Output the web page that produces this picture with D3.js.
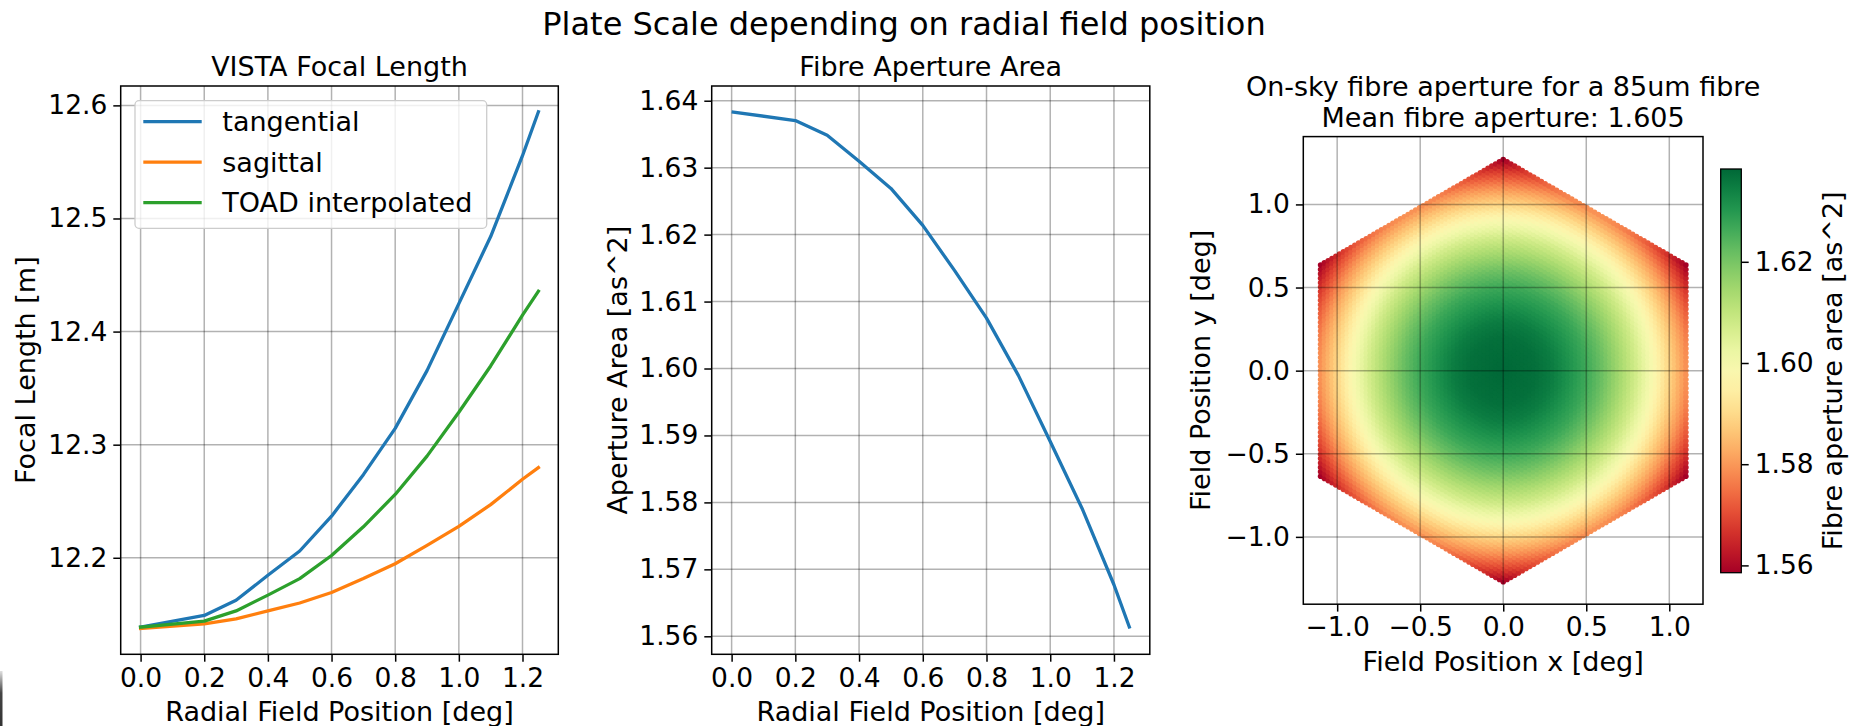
<!DOCTYPE html>
<html>
<head>
<meta charset="utf-8">
<script src="https://cdn.jsdelivr.net/npm/d3@7"></script>
<style>
  html, body { margin: 0; padding: 0; background: #fff; }
  svg { display: block; font-family: 'DejaVu Sans', sans-serif; }
  .tick text { font-size: 26.5px; fill: #000; font-family: 'DejaVu Sans', sans-serif; }
  .tick line { stroke: #000; stroke-width: 1.5; }
</style>
</head>
<body>
<div id="chart"></div>
<script>
// radial field position [deg]
const fieldPos = [0, 0.2, 0.3, 0.4, 0.5, 0.6, 0.7, 0.8, 0.9, 1.0, 1.1, 1.2, 1.25]

// focal length [m]
const focalTangential = [12.1387, 12.149, 12.1624, 12.1845, 12.206, 12.2368, 12.2735, 12.3144, 12.3655, 12.4247, 12.484, 12.5555, 12.5943]
const focalSagittal = [12.1375, 12.1416, 12.146, 12.153, 12.16, 12.1693, 12.1816, 12.1947, 12.211, 12.2278, 12.247, 12.2694, 12.2797]
const focalToad = [12.1387, 12.144, 12.153, 12.167, 12.1816, 12.202, 12.2274, 12.256, 12.2899, 12.3287, 12.3696, 12.4145, 12.4357]

// fibre aperture area [as^2]
const apertureArea = [1.63834, 1.63703, 1.63483, 1.63097, 1.6269, 1.62138, 1.61462, 1.60752, 1.59897, 1.5891, 1.5791, 1.5677, 1.56117]

const seriesNames = ['tangential', 'sagittal', 'TOAD interpolated']
const seriesColors = ['#1f77b4', '#ff7f0e', '#2ca02c']

// tick labels
const radialTicks = [0, 0.2, 0.4, 0.6, 0.8, 1.0, 1.2]
const focalTicks = [12.2, 12.3, 12.4, 12.5, 12.6]
const apertureTicks = [1.56, 1.57, 1.58, 1.59, 1.60, 1.61, 1.62, 1.63, 1.64]
const fieldTicks = [-1.0, -0.5, 0.0, 0.5, 1.0]
const colorTicks = [1.56, 1.58, 1.60, 1.62]

// fibre layout on the hexagonal field
const hexRadius = 1.27
const hexRings = 48

const W = 1849
const H = 726
const fontSize = 27
const tickLen = 7.4
const tickPad = 6

const svg = d3.select('#chart').append('svg').attr('width', W).attr('height', H)

// matplotlib style 5% margins
function padded(values) {
  const [lo, hi] = d3.extent(values)
  const m = (hi - lo) * 0.05
  return [lo - m, hi + m]
}

function makePanel(id, box, xDomain, yDomain) {
  const g = svg.append('g').attr('transform', `translate(${box.left},${box.top})`)
  const x = d3.scaleLinear().domain(xDomain).range([0, box.width])
  const y = d3.scaleLinear().domain(yDomain).range([box.height, 0])
  svg.append('defs').append('clipPath').attr('id', id)
    .append('rect').attr('width', box.width).attr('height', box.height)
  const grid = g.append('g').attr('class', 'grid')
  const plot = g.append('g').attr('clip-path', `url(#${id})`)
  return { g, x, y, grid, plot, box }
}

function drawGrid(p, xt, yt) {
  p.grid.selectAll('.gx').data(xt).join('line')
    .attr('x1', d => p.x(d)).attr('x2', d => p.x(d))
    .attr('y1', 0).attr('y2', p.box.height)
  p.grid.selectAll('.gy').data(yt).join('line')
    .attr('class', 'gy')
    .attr('y1', d => p.y(d)).attr('y2', d => p.y(d))
    .attr('x1', 0).attr('x2', p.box.width)
  p.grid.selectAll('line').attr('stroke', '#000').attr('stroke-opacity', 0.3).attr('stroke-width', 1.5)
}

function drawAxes(p, xt, yt, xfmt, yfmt) {
  p.g.append('g').attr('transform', `translate(0,${p.box.height})`)
    .call(d3.axisBottom(p.x).tickValues(xt).tickFormat(d3.format(xfmt)).tickSizeInner(tickLen).tickSizeOuter(0).tickPadding(tickPad))
    .call(a => a.select('.domain').remove())
  p.g.append('g')
    .call(d3.axisLeft(p.y).tickValues(yt).tickFormat(d3.format(yfmt)).tickSizeInner(tickLen).tickSizeOuter(0).tickPadding(tickPad))
    .call(a => a.select('.domain').remove())
  p.g.append('rect').attr('width', p.box.width).attr('height', p.box.height)
    .attr('fill', 'none').attr('stroke', '#000').attr('stroke-width', 1.5)
}

function text(str, x, y, opts = {}) {
  const t = svg.append('text').text(str)
    .attr('font-size', opts.size || fontSize)
    .attr('text-anchor', 'middle')
    .attr('fill', '#000')
  if (opts.rotate) {
    t.attr('transform', `translate(${x},${y}) rotate(-90)`).attr('dy', '0.35em')
  } else {
    t.attr('x', x).attr('y', y)
  }
  return t
}

// suptitle
text('Plate Scale depending on radial field position', 904, 35, { size: 32 })

// ---------- panel 1: focal length ----------
const box1 = { left: 120.7, top: 86, width: 437.6, height: 568.3 }
const p1 = makePanel('clip1', box1, padded(fieldPos), padded(focalTangential.concat(focalSagittal, focalToad)))
drawGrid(p1, radialTicks, focalTicks)
const focalSeries = [focalTangential, focalSagittal, focalToad]
const line1 = d3.line().x((d, i) => p1.x(fieldPos[i])).y(d => p1.y(d))
p1.plot.selectAll('path').data(focalSeries).join('path')
  .attr('d', line1).attr('fill', 'none')
  .attr('stroke', (d, i) => seriesColors[i]).attr('stroke-width', 3.3)
  .attr('stroke-linejoin', 'round').attr('stroke-linecap', 'square')
drawAxes(p1, radialTicks, focalTicks, '.1f', '.1f')

// legend
const legend = p1.g.append('g').attr('transform', `translate(${135 - box1.left},${100.7 - box1.top})`)
legend.append('rect').attr('width', 351.7).attr('height', 127.6).attr('rx', 4)
  .attr('fill', '#fff').attr('fill-opacity', 0.8).attr('stroke', '#ccc').attr('stroke-width', 1.3)
const legendRows = legend.selectAll('.row').data(seriesNames).join('g')
  .attr('transform', (d, i) => `translate(0,${21 + i * 40.5})`)
legendRows.append('line').attr('x1', 8.3).attr('x2', 66.7)
  .attr('stroke', (d, i) => seriesColors[i]).attr('stroke-width', 3.3)
legendRows.append('text').text(d => d).attr('x', 87.3).attr('dy', '0.35em')
  .attr('font-size', fontSize)

text('VISTA Focal Length', box1.left + box1.width / 2, 75.5)
text('Radial Field Position [deg]', box1.left + box1.width / 2, 720.7)
text('Focal Length [m]', 25.7, box1.top + box1.height / 2, { rotate: true })

// ---------- panel 2: aperture area ----------
const box2 = { left: 711.7, top: 86, width: 438.1, height: 568.3 }
const p2 = makePanel('clip2', box2, padded(fieldPos), padded(apertureArea))
drawGrid(p2, radialTicks, apertureTicks)
const line2 = d3.line().x((d, i) => p2.x(fieldPos[i])).y(d => p2.y(d))
p2.plot.append('path').datum(apertureArea)
  .attr('d', line2).attr('fill', 'none')
  .attr('stroke', seriesColors[0]).attr('stroke-width', 3.3).attr('stroke-linejoin', 'round')
drawAxes(p2, radialTicks, apertureTicks, '.1f', '.2f')

text('Fibre Aperture Area', box2.left + box2.width / 2, 75.5)
text('Radial Field Position [deg]', box2.left + box2.width / 2, 720.7)
text('Aperture Area [as^2]', 617.6, box2.top + box2.height / 2, { rotate: true })

// ---------- panel 3: on-sky aperture map ----------
const box3 = { left: 1303.3, top: 136.6, width: 399.7, height: 467.6 }
const p3 = makePanel('clip3', box3, [-1.204, 1.203], [-1.405, 1.408])

// aperture as a function of radius, read through the panel 2 curve
const apertureAt = d3.scaleLinear().domain(fieldPos).range(apertureArea)

const pitch = hexRadius / hexRings
const hexPoints = []
for (let q = -hexRings; q <= hexRings; q++) {
  for (let r = -hexRings; r <= hexRings; r++) {
    if (Math.abs(q + r) > hexRings) continue
    const fx = q * pitch * Math.sqrt(3) / 2
    const fy = r * pitch + q * pitch / 2
    hexPoints.push({ fx, fy, v: apertureAt(Math.hypot(fx, fy)) })
  }
}
const colorDomain = d3.extent(hexPoints, d => d.v)
const color = d3.scaleSequential(d3.interpolateRdYlGn).domain(colorDomain)

p3.plot.selectAll('circle').data(hexPoints).join('circle')
  .attr('cx', d => p3.x(d.fx)).attr('cy', d => p3.y(d.fy))
  .attr('r', 2.8).attr('fill', d => color(d.v))

// grid on top of the fibres
p3.grid.raise()
drawGrid(p3, fieldTicks, fieldTicks)
drawAxes(p3, fieldTicks, fieldTicks, '.1f', '.1f')

text('On-sky fibre aperture for a 85um fibre', box3.left + box3.width / 2, 96.4)
text('Mean fibre aperture: 1.605', box3.left + box3.width / 2, 126.5)
text('Field Position x [deg]', box3.left + box3.width / 2, 671)
text('Field Position y [deg]', 1201, box3.top + box3.height / 2, { rotate: true })

// colorbar
const cb = { left: 1720.7, top: 169, width: 20.6, height: 403.7 }
const cbScale = d3.scaleLinear().domain(colorDomain).range([cb.height, 0])
const grad = svg.append('defs').append('linearGradient').attr('id', 'cbgrad')
  .attr('x1', 0).attr('y1', 1).attr('x2', 0).attr('y2', 0)
grad.selectAll('stop').data(d3.range(0, 1.0001, 0.05)).join('stop')
  .attr('offset', d => d)
  .attr('stop-color', d => color(colorDomain[0] + d * (colorDomain[1] - colorDomain[0])))
const cbg = svg.append('g').attr('transform', `translate(${cb.left},${cb.top})`)
cbg.append('rect').attr('width', cb.width).attr('height', cb.height).attr('fill', 'url(#cbgrad)')
cbg.append('g').attr('transform', `translate(${cb.width},0)`)
  .call(d3.axisRight(cbScale).tickValues(colorTicks).tickFormat(d3.format('.2f')).tickSizeInner(tickLen).tickSizeOuter(0).tickPadding(tickPad))
  .call(a => a.select('.domain').remove())
cbg.append('rect').attr('width', cb.width).attr('height', cb.height)
  .attr('fill', 'none').attr('stroke', '#000').attr('stroke-width', 1.3)
text('Fibre aperture area [as^2]', 1833, cb.top + cb.height / 2, { rotate: true })

// screenshot edge artefact at the lower left
const edge = svg.append('defs').append('linearGradient').attr('id', 'edge')
  .attr('x1', 0).attr('y1', 0).attr('x2', 0).attr('y2', 1)
edge.append('stop').attr('offset', 0).attr('stop-color', '#e0e0e0')
edge.append('stop').attr('offset', 0.4).attr('stop-color', '#444')
edge.append('stop').attr('offset', 1).attr('stop-color', '#333')
svg.append('rect').attr('x', 0).attr('y', 671).attr('width', 2.5).attr('height', 55).attr('fill', 'url(#edge)')
</script>
</body>
</html>
